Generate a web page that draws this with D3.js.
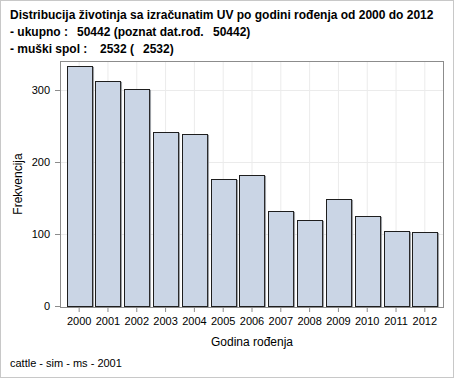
<!DOCTYPE html>
<html><head><meta charset="utf-8">
<script src="https://cdn.jsdelivr.net/npm/d3@7/dist/d3.min.js"></script>
<style>
body{margin:0;background:#fff;}
svg{display:block;font-family:"Liberation Sans",Arial,sans-serif;}
</style></head>
<body><svg id="c" width="454" height="378"></svg>
<script>
const years = ["2000","2001","2002","2003","2004","2005","2006","2007","2008","2009","2010","2011","2012"];
const counts = [334,312,301,242,239,176,182,132,120,149,125,104,103];
const yTicks = [0,100,200,300];
const titleLines = [
  ["Distribucija životinja sa izračunatim UV po godini rođenja od 2000 do 2012"],
  ["- ukupno :", "50442 (poznat dat.rođ.", "50442)"],
  ["- muški spol :", "2532 (", "2532)"]
];
const titleX = [[10],[10,77,213],[10,100,143]];
const xLabel = "Godina rođenja";
const yLabel = "Frekvencija";
const footnote = "cattle - sim - ms - 2001";

const svg = d3.select("#c");
const L=60, R=444, T=61, B=307;

svg.append("rect").attr("x",0.5).attr("y",0.5).attr("width",453).attr("height",377)
  .attr("fill","#fff").attr("stroke","#c8c8c8");

// titles
titleLines.forEach((parts,i)=>{
  parts.forEach((p,j)=>{
    svg.append("text").attr("x",titleX[i][j]).attr("y",19+i*17)
      .attr("font-size",12).attr("font-weight","bold").attr("fill","#000").text(p);
  });
});

const x = d3.scaleBand().domain(years).range([L,R]).paddingInner(0.13).paddingOuter(0.23);
const y = d3.scaleLinear().domain([0,340]).range([B-1,B-1-340*0.72]);

// grid
svg.append("g").selectAll("line").data(years).join("line")
  .attr("x1",d=>x(d)+x.bandwidth()/2).attr("x2",d=>x(d)+x.bandwidth()/2)
  .attr("y1",T).attr("y2",B).attr("stroke","#ebebeb");
svg.append("g").selectAll("line").data(yTicks.slice(1)).join("line")
  .attr("x1",L).attr("x2",R).attr("y1",d=>Math.round(y(d))+0.5).attr("y2",d=>Math.round(y(d))+0.5)
  .attr("stroke","#ebebeb");

// bars with shadow
svg.append("g").selectAll("rect").data(counts).join("rect")
  .attr("x",(d,i)=>Math.round(x(years[i]))+1.5).attr("y",d=>Math.round(y(d))+1.5)
  .attr("width",x.bandwidth()).attr("height",d=>y(0)-Math.round(y(d)))
  .attr("fill","none").attr("stroke","#a0a4aa");
svg.append("g").selectAll("rect").data(counts).join("rect")
  .attr("x",(d,i)=>Math.round(x(years[i]))+0.5).attr("y",d=>Math.round(y(d))+0.5)
  .attr("width",x.bandwidth()).attr("height",d=>y(0)-Math.round(y(d)))
  .attr("fill","#cad5e5").attr("stroke","#1e1e1e");

// frame
svg.append("rect").attr("x",L+0.5).attr("y",T+0.5).attr("width",R-L-1).attr("height",B-T)
  .attr("fill","none").attr("stroke","#8c8c8c");

// axes
const ya = svg.append("g").attr("transform",`translate(${L},0)`)
  .call(d3.axisLeft(y).tickValues(yTicks).tickSize(5).tickPadding(5));
const xa = svg.append("g").attr("transform",`translate(0,${B})`)
  .call(d3.axisBottom(x).tickSize(5).tickPadding(5));
[ya,xa].forEach(a=>{
  a.select(".domain").remove();
  a.selectAll(".tick line").attr("stroke","#8c8c8c");
  a.selectAll(".tick text").attr("font-size",11).attr("fill","#000")
    .attr("font-family","Liberation Sans, Arial, sans-serif");
});

svg.append("text").attr("x",(L+R)/2).attr("y",346).attr("text-anchor","middle")
  .attr("font-size",12).text(xLabel);
svg.append("text").attr("transform",`translate(22,${(T+B)/2}) rotate(-90)`)
  .attr("text-anchor","middle").attr("font-size",12).text(yLabel);
svg.append("text").attr("x",10).attr("y",367).attr("font-size",11).text(footnote);
</script></body></html>
